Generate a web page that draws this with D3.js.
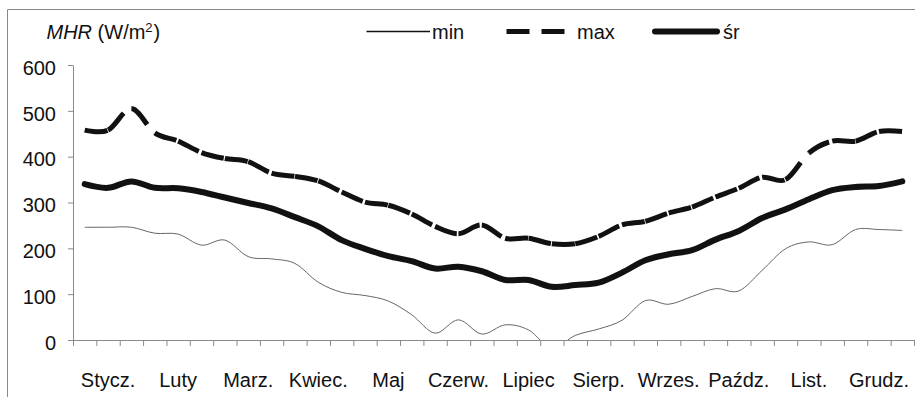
<!DOCTYPE html>
<html>
<head>
<meta charset="utf-8">
<script src="https://cdn.jsdelivr.net/npm/d3@7/dist/d3.min.js"></script>
<style>
  html, body { margin: 0; padding: 0; background: #fff; }
  svg { display: block; font-family: "Liberation Sans", Arial, sans-serif; }
</style>
</head>
<body>
<svg id="chart" width="915" height="397"></svg>
<script>
// Months and their three ten-day periods (dekady)
const months = ["Stycz.", "Luty", "Marz.", "Kwiec.", "Maj", "Czerw.", "Lipiec",
                "Sierp.", "Wrzes.", "Paźdz.", "List.", "Grudz."];
const decadeNames = ["I", "II", "III"];
const decades = months.flatMap(m => decadeNames.map(d => m + " " + d));

const yTicks = [0, 100, 200, 300, 400, 500, 600];

// MHR (W/m²) per ten-day period
const minValues = [246, 246, 246, 233, 231, 207, 218, 182, 177, 167, 126, 104,
                   97, 85, 55, 15, 44, 13, 33, 22, -18, 10, 24, 43,
                   86, 78, 95, 112, 107, 152, 199, 214, 208, 241, 241, 239];
const maxValues = [458, 458, 505, 452, 434, 409, 396, 389, 364, 357, 347, 323,
                   301, 294, 275, 248, 232, 251, 222, 222, 210, 210, 226, 251,
                   259, 277, 290, 312, 331, 355, 350, 408, 434, 434, 455, 455];
const avgValues = [340, 332, 346, 332, 331, 323, 311, 299, 287, 268, 248, 218,
                   199, 183, 172, 156, 160, 150, 131, 131, 116, 120, 125, 147,
                   174, 187, 196, 219, 238, 266, 285, 307, 327, 334, 336, 346];

const legendLabels = ["min", "max", "śr"];

const plot = { left: 73, right: 914, top: 65, bottom: 340 };
const svg = d3.select("#chart");
const FONT = 20;

// outer frame (top and left edges)
svg.append("path")
  .attr("d", "M7.5,397 V9.5 H915")
  .attr("fill", "none")
  .attr("stroke", "#8a8a8a")
  .attr("stroke-width", 1);

// scales
const xEdge = d3.scaleLinear().domain([0, decades.length]).range([plot.left, plot.right]);
const xMonth = d3.scaleBand().domain(months).range([plot.left, plot.right]);
const y = d3.scaleLinear().domain([0, 600]).range([plot.bottom, plot.top]);
const px = i => xEdge(i + 0.5);

// y axis
const yAxis = svg.append("g")
  .attr("transform", `translate(${plot.left},0)`)
  .call(d3.axisLeft(y).tickValues(yTicks).tickSize(5).tickSizeOuter(0).tickPadding(12));
yAxis.select(".domain").attr("stroke", "#8a8a8a");
yAxis.selectAll(".tick line").attr("stroke", "#8a8a8a");
yAxis.selectAll(".tick text")
  .attr("font-size", FONT)
  .attr("font-family", "Liberation Sans, Arial, sans-serif")
  .attr("fill", "#111")
  .attr("dy", "0.46em");

// x axis: tick marks between ten-day periods
const xAxis = svg.append("g")
  .attr("transform", `translate(0,${plot.bottom})`)
  .call(d3.axisBottom(xEdge).tickValues(d3.range(decades.length + 1))
        .tickSize(6).tickSizeOuter(0).tickFormat(""));
xAxis.select(".domain").attr("stroke", "#8a8a8a");
xAxis.selectAll(".tick line").attr("stroke", "#8a8a8a");

// month labels centred on their three periods
const mAxis = svg.append("g")
  .attr("transform", `translate(0,${plot.bottom})`)
  .call(d3.axisBottom(xMonth).tickSize(0).tickPadding(0));
mAxis.select(".domain").remove();
mAxis.selectAll(".tick text")
  .attr("font-size", FONT)
  .attr("font-family", "Liberation Sans, Arial, sans-serif")
  .attr("fill", "#111")
  .attr("y", 46.5)
  .attr("dy", 0);

// clip to the plotting area (min series dips below zero)
svg.append("defs").append("clipPath").attr("id", "plotClip")
  .append("rect")
  .attr("x", plot.left).attr("y", plot.top - 20)
  .attr("width", plot.right - plot.left)
  .attr("height", plot.bottom - plot.top + 20);

const smooth = d3.curveCardinal.tension(0);
const line = d3.line().x((d, i) => px(i)).y(d => y(d)).curve(smooth);

const series = svg.append("g").attr("clip-path", "url(#plotClip)");

// min: thin grey line
series.append("path")
  .attr("d", line(minValues))
  .attr("fill", "none")
  .attr("stroke", "#666")
  .attr("stroke-width", 1);

// average: thick solid line
series.append("path")
  .attr("d", line(avgValues))
  .attr("fill", "none")
  .attr("stroke", "#111")
  .attr("stroke-width", 6)
  .attr("stroke-linejoin", "round")
  .attr("stroke-linecap", "round");

// max: dashed, the dash pattern restarts on every segment between periods
const k = 1 / 6;
const pts = maxValues.map((v, i) => [px(i), y(v)]);
const maxSegments = d3.range(pts.length - 1).map(i => {
  const p0 = pts[i], p1 = pts[i + 1];
  const prev = i > 0 ? pts[i - 1] : p1;              // zero tangent at the first point
  const next = i + 2 < pts.length ? pts[i + 2] : p0; // zero tangent at the last point
  const c1 = [p0[0] + k * (p1[0] - prev[0]), p0[1] + k * (p1[1] - prev[1])];
  const c2 = [p1[0] + k * (p0[0] - next[0]), p1[1] + k * (p0[1] - next[1])];
  const p = d3.path();
  p.moveTo(p0[0], p0[1]);
  p.bezierCurveTo(c1[0], c1[1], c2[0], c2[1], p1[0], p1[1]);
  return p.toString();
});
series.selectAll("path.maxseg")
  .data(maxSegments)
  .join("path")
  .attr("class", "maxseg")
  .attr("d", d => d)
  .attr("fill", "none")
  .attr("stroke", "#111")
  .attr("stroke-width", 5)
  .attr("stroke-dasharray", "23 12");

// axis title
const title = svg.append("text")
  .attr("x", 46.5).attr("y", 39)
  .attr("font-size", FONT)
  .attr("fill", "#111");
title.append("tspan").attr("font-style", "italic").text("MHR");
title.append("tspan").text(" (W/m");
title.append("tspan").attr("font-size", 13).attr("dy", -7).text("2");
title.append("tspan").attr("dy", 7).attr("dx", 1).text(")");

// legend
const legY = 31.5;
const leg = svg.append("g");
leg.append("line")
  .attr("x1", 366.5).attr("x2", 430).attr("y1", legY).attr("y2", legY)
  .attr("stroke", "#111").attr("stroke-width", 1.3);
leg.append("line")
  .attr("x1", 506.5).attr("x2", 566).attr("y1", legY).attr("y2", legY)
  .attr("stroke", "#111").attr("stroke-width", 5).attr("stroke-dasharray", "23 12");
leg.append("line")
  .attr("x1", 655).attr("x2", 717).attr("y1", legY).attr("y2", legY)
  .attr("stroke", "#111").attr("stroke-width", 6).attr("stroke-linecap", "round");
const legX = [432, 577, 723];
leg.selectAll("text.lab")
  .data(legendLabels)
  .join("text")
  .attr("class", "lab")
  .attr("x", (d, i) => legX[i])
  .attr("y", 39)
  .attr("font-size", FONT)
  .attr("fill", "#111")
  .text(d => d);
</script>
</body>
</html>
